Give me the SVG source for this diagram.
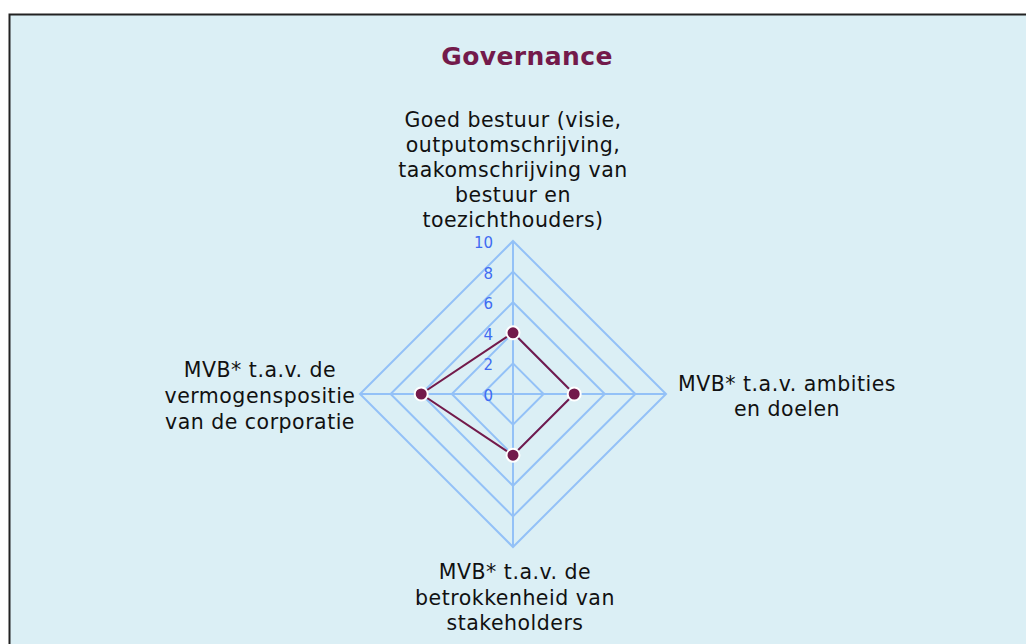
<svg xmlns="http://www.w3.org/2000/svg" width="1026" height="644" viewBox="0 0 1026 644">
<style>
.lbl{font-family:"DejaVu Sans",Verdana,sans-serif;font-size:20.5px;letter-spacing:0.5px;fill:#111;text-anchor:middle}
.tick{font-family:"DejaVu Sans",Verdana,sans-serif;font-size:15px;fill:#3F6BF2;text-anchor:end}
.grid{fill:none;stroke:#93C1F7;stroke-width:2}
.title{font-family:"DejaVu Sans",Verdana,sans-serif;font-size:25px;letter-spacing:0.4px;font-weight:bold;fill:#731A4B;text-anchor:middle}
</style>
<rect x="0" y="0" width="1026" height="644" fill="#ffffff"/>
<rect x="9.5" y="14.5" width="1030" height="640" fill="#DBEFF5" stroke="#222" stroke-width="2"/>
<text class="title" x="527" y="65">Governance</text>
<g id="grid">
<polygon class="grid" points="513,241 666,394 513,547 360,394"/>
<polygon class="grid" points="513,271.6 635.4,394 513,516.4 390.6,394"/>
<polygon class="grid" points="513,302.2 604.8,394 513,485.8 421.2,394"/>
<polygon class="grid" points="513,332.8 574.2,394 513,455.2 451.8,394"/>
<polygon class="grid" points="513,363.4 543.6,394 513,424.6 482.4,394"/>
<line class="grid" x1="513" y1="241" x2="513" y2="547"/>
<line class="grid" x1="360" y1="394" x2="666" y2="394"/>
</g>
<g id="ticks">
<text class="tick" x="493" y="248">10</text>
<text class="tick" x="493" y="279">8</text>
<text class="tick" x="493" y="309">6</text>
<text class="tick" x="493" y="340">4</text>
<text class="tick" x="493" y="370">2</text>
<text class="tick" x="493" y="401">0</text>
</g>
<g id="series">
<polygon points="513,332.8 574.2,394 513,455.2 421.2,394" fill="none" stroke="#731A4B" stroke-width="2"/>
<g fill="#731A4B" stroke="#ffffff" stroke-width="2">
<circle cx="513" cy="332.8" r="6.5"/>
<circle cx="574.2" cy="394" r="6.5"/>
<circle cx="513" cy="455.2" r="6.5"/>
<circle cx="421.2" cy="394" r="6.5"/>
</g>
</g>
<g id="label-top">
<text class="lbl" x="513" y="127">Goed bestuur (visie,</text>
<text class="lbl" x="513" y="152">outputomschrijving,</text>
<text class="lbl" x="513" y="177">taakomschrijving van</text>
<text class="lbl" x="513" y="202">bestuur en</text>
<text class="lbl" x="513" y="227">toezichthouders)</text>
</g>
<g id="label-right">
<text class="lbl" x="787" y="391">MVB* t.a.v. ambities</text>
<text class="lbl" x="787" y="416">en doelen</text>
</g>
<g id="label-bottom">
<text class="lbl" x="515" y="579">MVB* t.a.v. de</text>
<text class="lbl" x="515" y="605">betrokkenheid van</text>
<text class="lbl" x="515" y="630">stakeholders</text>
</g>
<g id="label-left">
<text class="lbl" x="260" y="377">MVB* t.a.v. de</text>
<text class="lbl" x="260" y="403">vermogenspositie</text>
<text class="lbl" x="260" y="429">van de corporatie</text>
</g>
</svg>
